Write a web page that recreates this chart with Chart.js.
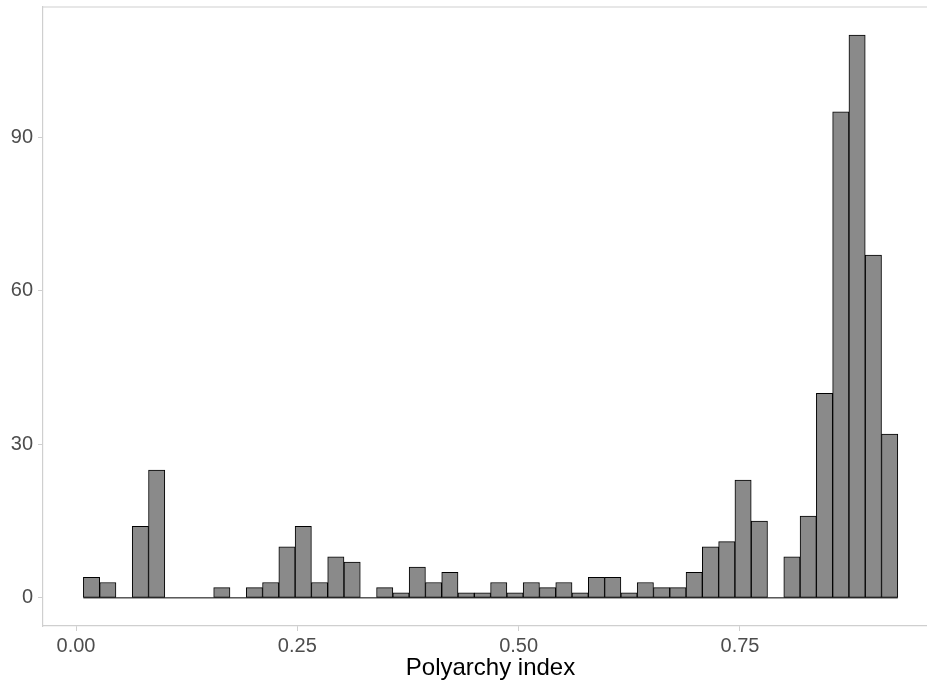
<!DOCTYPE html>
<html>
<head>
<meta charset="utf-8">
<title>Polyarchy index histogram</title>
<script src="https://cdn.jsdelivr.net/npm/chart.js@4/dist/chart.umd.min.js"></script>
<style>
    html, body { margin: 0; padding: 0; overflow: hidden; background: #ffffff; }
    canvas { display: block; }
</style>
</head>
<body>
<canvas id="myChart" width="940" height="689"></canvas>
<script>
// Histogram bins (50 bins)
const binStart = 0.0083;   // left edge of the first bin
const binWidth = 0.0184;
const counts = [
    4, 3, 0, 14, 25, 0, 0, 0, 2, 0,
    2, 3, 10, 14, 3, 8, 7, 0, 2, 1,
    6, 3, 5, 1, 1, 3, 1, 3, 2, 3,
    1, 4, 4, 1, 3, 2, 2, 5, 10, 11,
    23, 15, 0, 8, 16, 40, 95, 110, 67, 32
];
const xTicks = [0, 0.25, 0.5, 0.75];
const yTicks = [0, 30, 60, 90];
const xTitle = 'Polyarchy index';

const binCenters = counts.map((c, i) => binStart + binWidth * (i + 0.5));

document.addEventListener('DOMContentLoaded', () => {
    const borderGrey = '#cfcfcf';
    const labelGrey = '#4d4d4d';
    const fontFamily = '"Liberation Sans", Arial, sans-serif';

    // top edge of the panel + the zero line under empty bins
    const panelExtras = {
        id: 'panelExtras',
        beforeDatasetsDraw(chart) {
            const { ctx, scales } = chart;
            ctx.save();
            ctx.strokeStyle = '#000000';
            ctx.lineWidth = 1;
            const y0 = scales.y.getPixelForValue(0);
            ctx.beginPath();
            ctx.moveTo(scales.x.getPixelForValue(binStart), y0);
            ctx.lineTo(scales.x.getPixelForValue(binStart + binWidth * counts.length), y0);
            ctx.stroke();
            ctx.restore();
        },
        afterDraw(chart) {
            const { ctx, chartArea } = chart;
            ctx.save();
            ctx.strokeStyle = borderGrey;
            ctx.lineWidth = 1.2;
            ctx.beginPath();
            ctx.moveTo(chartArea.left, chartArea.top);
            ctx.lineTo(chartArea.right, chartArea.top);
            ctx.stroke();
            ctx.restore();
        }
    };

    const ctx = document.getElementById('myChart').getContext('2d');
    const myChart = new Chart(ctx, {
        type: 'bar',
        data: {
            datasets: [
                {
                    label: 'count',
                    data: binCenters.map((x, i) => ({ x: x, y: counts[i] })),
                    backgroundColor: '#8a8a8a',
                    borderColor: '#000000',
                    borderWidth: 1,
                    borderSkipped: false,
                    barPercentage: 1.0,
                    categoryPercentage: 1.0
                }
            ]
        },
        options: {
            responsive: false,
            animation: false,
            layout: { padding: { top: 7, right: 2, bottom: 0, left: 0 } },
            scales: {
                x: {
                    type: 'linear',
                    offset: false,
                    min: -0.0373,
                    max: 0.9737,
                    afterFit: (scale) => {
                        scale.height = 63;
                        scale.paddingLeft = 0;
                        scale.paddingRight = 0;
                    },
                    afterBuildTicks: (scale) => { scale.ticks = xTicks.map(v => ({ value: v })); },
                    grid: {
                        offset: false,
                        drawOnChartArea: false,
                        drawTicks: true,
                        tickLength: 5,
                        tickColor: borderGrey
                    },
                    border: { display: true, color: borderGrey, width: 1.2 },
                    ticks: {
                        padding: 3,
                        color: labelGrey,
                        font: { family: fontFamily, size: 20 },
                        maxRotation: 0,
                        callback: function(value) {
                            return value.toFixed(2);
                        }
                    },
                    title: {
                        display: true,
                        text: xTitle,
                        color: '#000000',
                        font: { family: fontFamily, size: 24 },
                        padding: { top: 0, bottom: 6 }
                    }
                },
                y: {
                    min: -5.5,
                    max: 115.5,
                    afterFit: (scale) => {
                        scale.width = 43;
                        scale.paddingTop = 0;
                        scale.paddingBottom = 0;
                    },
                    afterBuildTicks: (scale) => { scale.ticks = yTicks.map(v => ({ value: v })); },
                    grid: {
                        drawOnChartArea: false,
                        drawTicks: true,
                        tickLength: 5,
                        tickColor: borderGrey
                    },
                    border: { display: true, color: borderGrey, width: 1.2 },
                    ticks: {
                        padding: 5,
                        color: labelGrey,
                        font: { family: fontFamily, size: 20 }
                    }
                }
            },
            plugins: {
                legend: { display: false },
                tooltip: { enabled: false }
            }
        },
        plugins: [panelExtras]
    });
});
</script>
</body>
</html>
